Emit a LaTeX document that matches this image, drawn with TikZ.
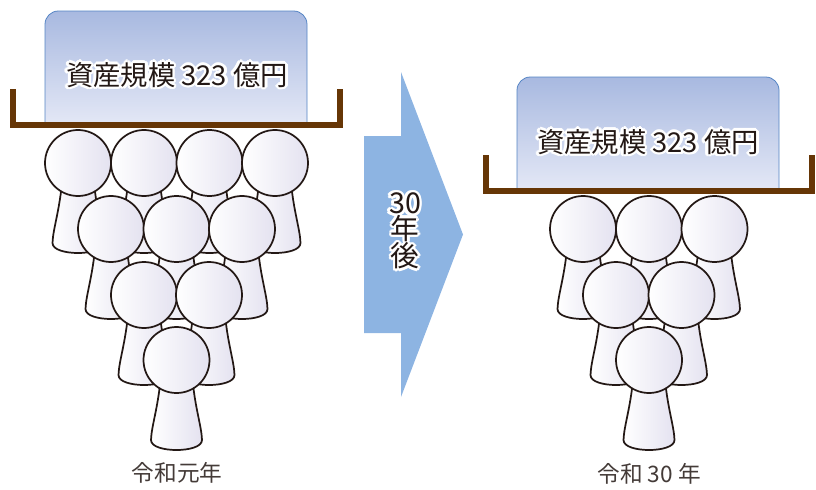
\documentclass[tikz,border=0pt]{standalone}
\usepackage{fontspec}
\setmainfont{Noto Sans CJK JP}

\definecolor{ink}{RGB}{35,24,21}
\definecolor{lavender}{RGB}{228,226,240}
\definecolor{boxtop}{RGB}{168,185,224}
\definecolor{boxbottom}{RGB}{228,232,246}
\definecolor{boxline}{RGB}{84,132,196}
\definecolor{traybrown}{RGB}{102,54,6}
\definecolor{arrowblue}{RGB}{141,180,226}

% one pawn-like person: body first, head on top
\newcommand{\person}[2]{%
  \begin{scope}[shift={(#1,#2)}]
    \shade[figure] (-16,20) .. controls (-19,50) and (-25,66) .. (-25.5,80)
      .. controls (-25.5,87) and (-12,90) .. (0,90)
      .. controls (12,90) and (25.5,87) .. (25.5,80)
      .. controls (25,66) and (19,50) .. (16,20) -- cycle;
    \shade[figure] (0,0) circle[radius=33];
  \end{scope}}

% text with a white rim behind it
\newcommand{\halonode}[4]{%
  \foreach \ang in {0,30,...,330}
    \node[#1, text=white, shift={(\ang:2.6)}] at (#3) {#4};
  \node[#1] (#2) at (#3) {#4}}

\begin{document}
\begin{tikzpicture}[
    x=0.75pt, y=-0.75pt,
    figure/.style={draw=ink, line width=1.3pt, left color=white, right color=lavender},
    assetbox/.style={draw=boxline, line width=0.6pt, rounded corners=10pt,
      top color=boxtop, bottom color=boxbottom},
    tray/.style={draw=traybrown, line width=4.5pt, line join=miter},
    bigtext/.style={text=ink, font=\fontsize{20.5}{24}\selectfont, inner sep=0pt},
    arrowtext/.style={text=ink, font=\fontsize{21.5}{19}\selectfont, align=center, inner sep=0pt},
    label/.style={text=ink!85, font=\fontsize{17}{20}\selectfont, inner sep=0pt}
  ]
    \useasboundingbox (0,0) rectangle (816,489);

    % before: the fund held up by ten people
    \shade[assetbox] (45,125) -- (45,11) -- (307,11) -- (307,125);
    \draw[tray] (13,89) -- (13,125) -- (340,125) -- (340,89);
    \halonode{bigtext}{assetL}{177,75}{資産規模 323 億円};
    \foreach \x/\y in {78/163, 144/163, 209.5/163, 275/163,
                       111/229, 176.5/229, 242/229,
                       144/295, 209/295,
                       176.5/360}
      \person{\x}{\y};
    \node[label] (yearL) at (177,473) {令和元年};

    % the arrow in between
    \fill[arrowblue] (364,136) -- (401,136) -- (401,72) -- (463,234.5)
      -- (401,397) -- (401,333) -- (364,333) -- cycle;
    \halonode{arrowtext}{later}{405,231}{30\\年\\後};

    % after: the same fund on six people
    \shade[assetbox] (517,190) -- (517,77) -- (779,77) -- (779,190);
    \draw[tray] (485.5,155) -- (485.5,190.5) -- (812,190.5) -- (812,155);
    \halonode{bigtext}{assetR}{648,142}{資産規模 323 億円};
    \foreach \x/\y in {583/229, 649/229, 714.5/229,
                       616/295, 681.5/295,
                       649/360}
      \person{\x}{\y};
    \node[label] (yearR) at (649,474) {令和 30 年};
\end{tikzpicture}
\end{document}
